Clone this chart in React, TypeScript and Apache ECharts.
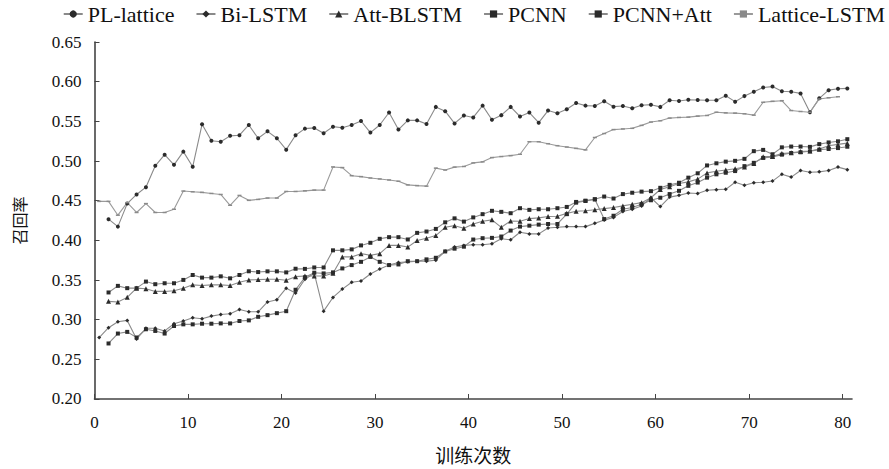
import React, { useEffect, useRef } from "react";
import * as echarts from "echarts";

// training epochs (points sit half a step right of each integer)
const epochs: number[] = Array.from({ length: 81 }, (_, i) => i + 0.5);
const xTickValues = [0, 10, 20, 30, 40, 50, 60, 70, 80];

const seriesNames = ["PL-lattice", "Bi-LSTM", "Att-BLSTM", "PCNN", "PCNN+Att", "Lattice-LSTM"];

const plLattice: (number | null)[] = [
  null,
  0.4267, 0.4173, 0.4463, 0.4578, 0.467, 0.4939, 0.508, 0.4952, 0.5118, 0.4927,
  0.5462, 0.5255, 0.5243, 0.5317, 0.5325, 0.5454, 0.5287, 0.5374, 0.5287, 0.5143,
  0.5325, 0.5408, 0.5417, 0.535, 0.5433, 0.542,
  0.5454, 0.5504, 0.5358, 0.5454, 0.5611, 0.5396, 0.5512, 0.5512, 0.5467, 0.5682,
  0.5628, 0.5474, 0.5574, 0.5549, 0.5698, 0.552, 0.5578, 0.5682, 0.5561, 0.5611,
  0.5483, 0.5636, 0.5603, 0.5653, 0.5731, 0.5698,
  0.5694, 0.5752, 0.5685, 0.5694, 0.5665, 0.5703, 0.571, 0.5682, 0.5765, 0.5756,
  0.5773, 0.5769, 0.5765, 0.5765, 0.5822, 0.5748, 0.5818, 0.5872, 0.5926, 0.5938,
  0.588, 0.5872, 0.5852, 0.5615, 0.579, 0.5893, 0.591, 0.5915,
];

const biLstm: (number | null)[] = [
  0.2775,
  0.2899, 0.2974, 0.2991, 0.2755, 0.2892, 0.2892, 0.2858, 0.2949, 0.2983, 0.3024,
  0.3011, 0.3045, 0.3066, 0.3074, 0.3128, 0.3099, 0.3099, 0.3223, 0.3252, 0.3397,
  0.3335, 0.3509, 0.3584, 0.3107, 0.328, 0.3385, 0.3471, 0.3488, 0.3576, 0.3638,
  0.3688, 0.372, 0.3729, 0.3737, 0.3737, 0.375, 0.3862, 0.3915, 0.3936, 0.3944,
  0.3944, 0.3957, 0.4019, 0.4007, 0.4102, 0.4081, 0.4081, 0.4156, 0.4164, 0.4173,
  0.4173, 0.4173, 0.4214, 0.4255, 0.4289, 0.4363, 0.4392, 0.4434, 0.4537, 0.4425,
  0.4545, 0.4567, 0.4597, 0.459, 0.4632, 0.4639, 0.4643, 0.4732, 0.4695, 0.4726,
  0.4732, 0.4747, 0.4834, 0.4797, 0.4881, 0.4859, 0.4863, 0.488, 0.4923, 0.4891,
];

const attBlstm: (number | null)[] = [
  null,
  0.3231, 0.3223, 0.3281, 0.3397, 0.3389, 0.3356, 0.3356, 0.3364, 0.3397, 0.3439,
  0.343, 0.3439, 0.3439, 0.343, 0.3472, 0.3501, 0.3505, 0.3509, 0.3509, 0.3497,
  0.3542, 0.3551, 0.3551, 0.3551, 0.3584, 0.3791, 0.3791, 0.3832, 0.3811, 0.3832,
  0.3936, 0.3936, 0.3915, 0.3998, 0.4027, 0.406, 0.4164, 0.4185, 0.4152, 0.4206,
  0.4241, 0.4258, 0.4164, 0.4244, 0.424, 0.4274, 0.4283, 0.43, 0.4304, 0.434,
  0.4366, 0.4372, 0.4385, 0.44, 0.4413, 0.4434, 0.4455, 0.4475, 0.4537, 0.4641,
  0.4675, 0.4716, 0.4737, 0.4772, 0.485, 0.4871, 0.4886, 0.4902, 0.4923, 0.4969,
  0.5052, 0.5058, 0.5093, 0.5104, 0.512, 0.5126, 0.515, 0.5193, 0.5209, 0.5225,
];

const pcnn: (number | null)[] = [
  null,
  0.27, 0.2825, 0.2846, 0.2775, 0.2879, 0.2858, 0.2825, 0.292, 0.2941, 0.2941,
  0.2949, 0.2949, 0.2953, 0.2953, 0.2983, 0.2991, 0.3036, 0.3057, 0.3082, 0.3107,
  0.3377, 0.3534, 0.3592, 0.3583, 0.3596, 0.3646, 0.3688, 0.3729, 0.3791, 0.3729,
  0.3688, 0.3696, 0.3737, 0.3737, 0.376, 0.378, 0.386, 0.3895, 0.392, 0.401,
  0.4027, 0.4031, 0.4048, 0.4123, 0.4173, 0.4185, 0.4198, 0.4206, 0.4206, 0.433,
  0.4475, 0.4496, 0.4517, 0.4268, 0.431, 0.4392, 0.4413, 0.4455, 0.4505, 0.4537,
  0.4583, 0.4624, 0.4687, 0.4728, 0.479, 0.4832, 0.4852, 0.4873, 0.4935, 0.4977,
  0.5039, 0.5051, 0.508, 0.5101, 0.511, 0.5122, 0.5143, 0.5151, 0.5163, 0.518,
];

const pcnnAtt: (number | null)[] = [
  null,
  0.3343, 0.3426, 0.3397, 0.3397, 0.348, 0.3447, 0.3459, 0.3459, 0.3501, 0.3563,
  0.353, 0.353, 0.3546, 0.3521, 0.3563, 0.361, 0.36, 0.3609, 0.3609, 0.3596,
  0.3642, 0.364, 0.3658, 0.3658, 0.3874, 0.3874, 0.3886, 0.3936, 0.3969, 0.4019,
  0.404, 0.404, 0.4011, 0.4094, 0.4111, 0.4144, 0.4227, 0.4277, 0.4236, 0.4289,
  0.433, 0.4372, 0.4359, 0.4342, 0.4405, 0.4384, 0.4392, 0.4392, 0.4405, 0.4421,
  0.4484, 0.45, 0.4517, 0.4552, 0.4527, 0.4583, 0.46, 0.4614, 0.462, 0.4662,
  0.4699, 0.4726, 0.479, 0.4845, 0.4944, 0.4971, 0.4992, 0.5002, 0.5027, 0.5124,
  0.514, 0.5085, 0.5172, 0.5182, 0.5182, 0.5178, 0.5213, 0.5234, 0.5248, 0.5275,
];

const latticeLstm: (number | null)[] = [
  0.4491, 0.4491, 0.4317, 0.4475, 0.4351, 0.4463, 0.4351, 0.4351, 0.4392, 0.4621,
  0.4612, 0.4604, 0.4591, 0.4578, 0.4442, 0.4566, 0.4504, 0.4516, 0.4533, 0.4533,
  0.4616, 0.4616, 0.4624, 0.4633, 0.4633,
  0.4925, 0.4917, 0.4815, 0.4803, 0.4786, 0.4774, 0.4761, 0.4745, 0.4699, 0.469,
  0.4683, 0.491, 0.4886, 0.4923, 0.4931, 0.4976, 0.4989, 0.5043, 0.5056, 0.5068,
  0.5085, 0.5243, 0.5243, 0.5218, 0.5193, 0.5176, 0.5159, 0.514,
  0.5296, 0.5346, 0.5396, 0.5404, 0.5412, 0.5449, 0.5491, 0.5507, 0.5541, 0.5549,
  0.5553, 0.5566, 0.5574, 0.5615, 0.5607, 0.5603, 0.5595, 0.5578, 0.574, 0.5752,
  0.576, 0.5636, 0.5624, 0.5615, 0.5781, 0.5797, 0.581,
  null,
];

const seriesValues = [plLattice, biLstm, attBlstm, pcnn, pcnnAtt, latticeLstm];

const FONT = "'Liberation Serif', 'Times New Roman', serif";
const CJK = "'Noto Sans CJK SC', sans-serif";

export default function App() {
  const ref = useRef<HTMLDivElement>(null);

  useEffect(() => {
    if (!ref.current) return;
    const chart = echarts.init(ref.current, null, { renderer: "svg" });

    const markerStyles: any[] = [
      { symbol: "circle", symbolSize: 4 },
      { symbol: "diamond", symbolSize: 4 },
      { symbol: "triangle", symbolSize: 5 },
      { symbol: "rect", symbolSize: 4 },
      { symbol: "rect", symbolSize: 4 },
      { symbol: "rect", symbolSize: [4, 1.5] },
    ];

    const series = seriesNames.map((name, si) => ({
      name,
      type: "line",
      data: epochs
        .map((x, i) => [x, seriesValues[si][i]])
        .filter((d) => d[1] !== null && d[1] !== undefined),
      symbol: markerStyles[si].symbol,
      symbolSize: markerStyles[si].symbolSize,
      showSymbol: true,
      lineStyle: { color: si === 5 ? "#9a9a9a" : "#8a8a8a", width: 1.1 },
      itemStyle: { color: si === 5 ? "#8a8a8a" : "#2b2b2b" },
      emphasis: { disabled: true },
    }));

    chart.setOption({
      animation: false,
      backgroundColor: "#ffffff",
      legend: {
        data: seriesNames,
        top: 3,
        right: 4,
        padding: 0,
        itemGap: 21,
        itemWidth: 19,
        itemHeight: 9,
        textStyle: { fontFamily: FONT, fontSize: 22, color: "#111" },
      },
      grid: { left: 94.5, right: 37, top: 42, bottom: 65, containLabel: false },
      xAxis: {
        type: "value",
        min: 0,
        max: 81,
        interval: 10,
        name: "训练次数",
        nameLocation: "middle",
        nameGap: 46,
        nameTextStyle: { fontFamily: CJK, fontSize: 19, color: "#111" },
        axisLine: { show: true, lineStyle: { color: "#444", width: 1.6 } },
        axisTick: { show: true, inside: true, length: 5, lineStyle: { color: "#444", width: 1 }, customValues: xTickValues },
        axisLabel: { fontFamily: FONT, fontSize: 17, color: "#111", margin: 15, customValues: xTickValues },
        splitLine: { show: false },
      },
      yAxis: {
        type: "value",
        min: 0.2,
        max: 0.65,
        interval: 0.05,
        name: "召回率",
        nameLocation: "middle",
        nameRotate: 90,
        nameGap: 68,
        nameTextStyle: { fontFamily: CJK, fontSize: 16, color: "#111" },
        axisLine: { show: true, lineStyle: { color: "#444", width: 1.6 } },
        axisTick: { show: true, inside: true, length: 5, lineStyle: { color: "#444", width: 1 } },
        axisLabel: {
          fontFamily: FONT,
          fontSize: 17,
          color: "#111",
          margin: 13,
          formatter: (v: number) => v.toFixed(2),
        },
        splitLine: { show: false },
      },
      series,
    });

    return () => chart.dispose();
  }, []);

  return (
    <div
      ref={ref}
      style={{ position: "absolute", left: 0, top: 0, width: 889, height: 469, background: "#fff" }}
    />
  );
}
